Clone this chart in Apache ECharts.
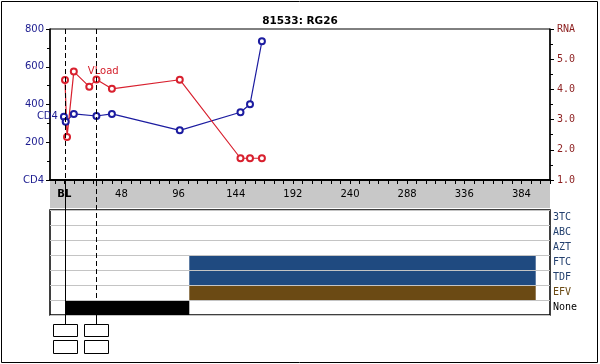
<!DOCTYPE html>
<html><head><meta charset="utf-8">
<script src="https://cdn.jsdelivr.net/npm/echarts@6/dist/echarts.min.js"></script>
<style>html,body{margin:0;padding:0;background:#fff}#c{width:600px;height:364px}</style>
</head><body><div id="c"></div>
<script>
const titleText = '81533: RG26';
const cd4Days = [-0.3, 1.2, 8, 27, 40, 97, 148, 156, 166];
const cd4Values = [335, 309, 350, 339, 350, 263, 359, 401, 735];
const rnaDays = [0.6, 2.3, 8, 21, 27, 40, 97, 148, 156, 166];
const rnaValues = [4.31, 2.42, 4.59, 4.09, 4.33, 4.02, 4.32, 1.72, 1.72, 1.72];
const xLabelValues = [0, 48, 96, 144, 192, 240, 288, 336, 384];
const xTickValues = [-8,0,8,16,24,32,40,48,56,64,72,80,88,96,104,112,120,128,136,144,152,160,168,176,184,192,200,208,216,224,232,240,248,256,264,272,280,288,296,304,312,320,328,336,344,352,360,368,376,384,392,400,408];
const drugs = ['3TC', 'ABC', 'AZT', 'FTC', 'TDF', 'EFV', 'None'];
const regimenDrug = ['FTC', 'TDF', 'EFV', 'None'];
const regimenStart = [105, 105, 105, 1];
const regimenEnd = [396, 396, 396, 105];
const visitDays = [1, 27];

const drugFill = {FTC: '#1f4a80', TDF: '#1f4a80', EFV: '#6b4a14', None: '#000000', '3TC': '#1f4a80', ABC: '#1f4a80', AZT: '#1f4a80'};
const drugText = {FTC: 'bl', TDF: 'bl', EFV: 'br', None: 'bk', '3TC': 'bl', ABC: 'bl', AZT: 'bl'};

const X0 = -12, X1 = 408;
const chart = echarts.init(document.getElementById('c'));

const cd4Data = cd4Days.map((d, i) => i === 0 ? {
  value: [d, cd4Values[i]],
  label: {show: true, position: 'left', distance: 2, formatter: 'CD4', color: '#1b1b8f', fontFamily: 'DejaVu Sans', fontSize: 10}
} : [d, cd4Values[i]]);
const rnaData = rnaDays.map((d, i) => i === 2 ? {
  value: [d, rnaValues[i]],
  label: {show: true, position: 'right', distance: 10, formatter: 'VLoad', color: '#d4202c', fontFamily: 'DejaVu Sans', fontSize: 10}
} : [d, rnaValues[i]]);
const regData = regimenDrug.map((g, i) => [regimenStart[i], regimenEnd[i], drugs.indexOf(g), g]);

chart.setOption({
  animation: false,
  title: {text: titleText, left: 'center', top: 16, padding: 0,
    textStyle: {fontFamily: 'DejaVu Sans', fontWeight: 'bold', fontSize: 10.5, color: '#000'}},
  grid: [
    {left: 50, top: 29, width: 500, height: 151, show: true, borderColor: '#000', borderWidth: 1},
    {left: 50, top: 210, width: 500, height: 105, show: true, borderColor: '#000', borderWidth: 1.5}
  ],
  xAxis: [
    {type: 'value', gridIndex: 0, min: X0, max: X1, position: 'bottom',
      axisLine: {show: true, onZero: false, lineStyle: {color: '#000', width: 2}},
      axisTick: {show: true, length: 4, customValues: xTickValues, lineStyle: {color: '#000'}},
      axisLabel: {customValues: xLabelValues, margin: 9, color: '#000', fontFamily: 'DejaVu Sans', fontSize: 10,
        formatter: v => v === 0 ? '{b|BL}' : String(v),
        rich: {b: {fontWeight: 'bold', fontFamily: 'DejaVu Sans', fontSize: 10, color: '#000'}}},
      splitLine: {show: false}},
    {type: 'value', gridIndex: 1, min: X0, max: X1, show: false}
  ],
  yAxis: [
    {type: 'value', gridIndex: 0, min: 0, max: 800, interval: 200, position: 'left',
      axisLine: {show: true, onZero: false, lineStyle: {color: '#000', width: 1.5}},
      axisTick: {show: true, length: 4, lineStyle: {color: '#000'}},
      minorTick: {show: true, splitNumber: 2, length: 3, lineStyle: {color: '#000'}},
      axisLabel: {margin: 6, color: '#1b1b8f', fontFamily: 'DejaVu Sans', fontSize: 10,
        formatter: v => v === 0 ? 'CD4' : String(v)},
      splitLine: {show: false}},
    {type: 'value', gridIndex: 0, min: 1, max: 6, interval: 1, position: 'right',
      axisLine: {show: true, onZero: false, lineStyle: {color: '#000', width: 1.5}},
      axisTick: {show: true, length: 4, lineStyle: {color: '#000'}},
      minorTick: {show: true, splitNumber: 2, length: 3, lineStyle: {color: '#000'}},
      axisLabel: {margin: 7, color: '#8b1c1c', fontFamily: 'DejaVu Sans Mono', fontSize: 10,
        formatter: v => v === 6 ? 'RNA' : v.toFixed(1)},
      splitLine: {show: false}},
    {type: 'category', gridIndex: 1, data: drugs, inverse: true, position: 'right',
      axisLine: {show: false, onZero: false}, axisTick: {show: false},
      splitLine: {show: true, lineStyle: {color: '#c4c4c4', width: 1}},
      axisLabel: {margin: 3, align: 'left', fontFamily: 'DejaVu Sans Mono', fontSize: 10,
        formatter: v => '{' + drugText[v] + '|' + v + '}',
        rich: {
          bl: {color: '#23406e', fontFamily: 'DejaVu Sans Mono', fontSize: 10},
          br: {color: '#6b4a14', fontFamily: 'DejaVu Sans Mono', fontSize: 10},
          bk: {color: '#000', fontFamily: 'DejaVu Sans Mono', fontSize: 10}
        }}}
  ],
  series: [
    {type: 'line', name: 'CD4', xAxisIndex: 0, yAxisIndex: 0, data: cd4Data,
      symbol: 'emptyCircle', symbolSize: 6, color: '#1c1ca0',
      lineStyle: {color: '#1c1ca0', width: 1.2}, itemStyle: {color: '#1c1ca0', borderWidth: 1.2}, z: 3},
    {type: 'line', name: 'VLoad', xAxisIndex: 0, yAxisIndex: 1, data: rnaData,
      symbol: 'emptyCircle', symbolSize: 6, color: '#d8202e',
      lineStyle: {color: '#d8202e', width: 1.2}, itemStyle: {color: '#d8202e', borderWidth: 1.2}, z: 3},
    {type: 'custom', xAxisIndex: 1, yAxisIndex: 2, data: regData, encode: {x: [0, 1], y: 2},
      renderItem: (params, api) => {
        const s = api.coord([api.value(0), api.value(2)]);
        const e = api.coord([api.value(1), api.value(2)]);
        const h = api.size([0, 1])[1];
        const g = regimenDrug[params.dataIndex];
        return {type: 'rect', shape: {x: s[0], y: s[1] - h / 2 + 1, width: e[0] - s[0], height: h - 1},
          style: {fill: drugFill[g]}};
      }}
  ]
});

const gfx = [];
gfx.push({type: 'rect', z: -5, shape: {x: 50, y: 180, width: 500, height: 28}, style: {fill: '#c8c8c8'}, silent: true});
gfx.push({type: 'rect', z: 10, shape: {x: 1.5, y: 1.5, width: 596, height: 361}, style: {fill: null, stroke: '#000', lineWidth: 1}, silent: true});
visitDays.forEach((d, i) => {
  const px = Math.round(chart.convertToPixel({xAxisIndex: 0}, d)) + 0.5;
  const dash = [5, 3];
  if (i === 0) {
    gfx.push({type: 'line', z: 5, shape: {x1: px, y1: 29, x2: px, y2: 180}, style: {stroke: '#000', lineWidth: 1, lineDash: dash}});
    gfx.push({type: 'line', z: 5, shape: {x1: px, y1: 180, x2: px, y2: 324}, style: {stroke: '#000', lineWidth: 1}});
  } else {
    gfx.push({type: 'line', z: 5, shape: {x1: px, y1: 29, x2: px, y2: 315}, style: {stroke: '#000', lineWidth: 1, lineDash: dash}});
    gfx.push({type: 'line', z: 5, shape: {x1: px, y1: 315, x2: px, y2: 324}, style: {stroke: '#000', lineWidth: 1}});
  }
  gfx.push({type: 'rect', z: 5, shape: {x: px - 12, y: 324.5, width: 24, height: 12}, style: {fill: '#fff', stroke: '#000', lineWidth: 1}});
  gfx.push({type: 'rect', z: 5, shape: {x: px - 12, y: 340.5, width: 24, height: 13}, style: {fill: '#fff', stroke: '#000', lineWidth: 1}});
});
chart.setOption({graphic: gfx});
</script>
</body></html>
